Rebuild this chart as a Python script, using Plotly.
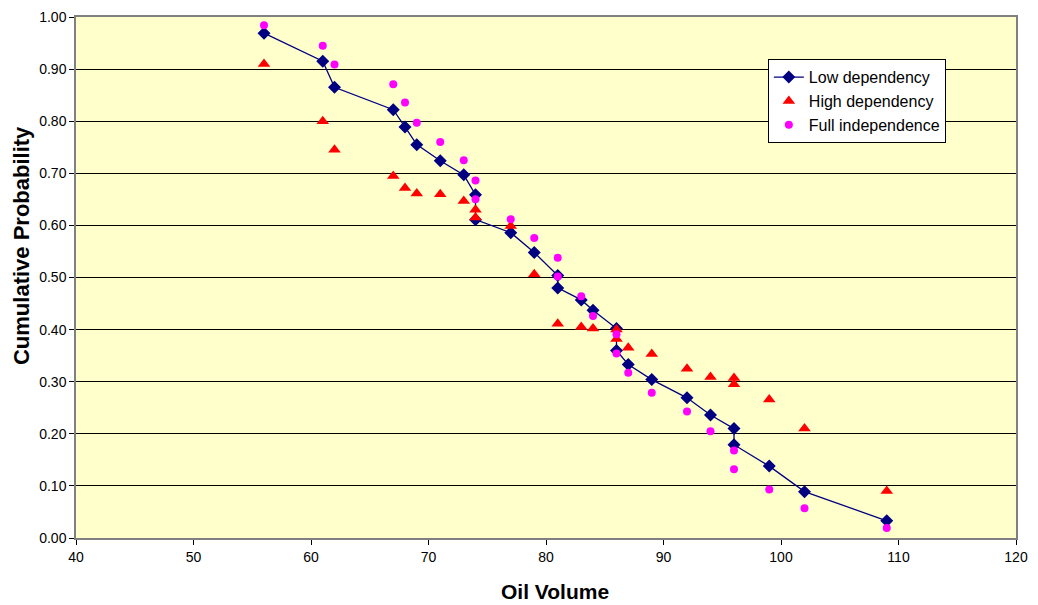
import plotly.graph_objects as go

low_x = [56, 61, 62, 67, 68, 69, 71, 73, 74, 74, 77, 79, 81, 81, 83, 84, 86, 86, 87, 89, 92, 94, 96, 96, 99, 102, 109]
low_y = [0.969, 0.915, 0.865, 0.822, 0.789, 0.755, 0.724, 0.697, 0.659, 0.611, 0.586, 0.548, 0.504, 0.480,
         0.457, 0.437, 0.402, 0.360, 0.333, 0.304, 0.269, 0.236, 0.210, 0.179, 0.138, 0.089, 0.033]

high_x = [56, 61, 62, 67, 68, 69, 71, 73, 74, 74, 77, 79, 81, 83, 84, 86, 86, 87, 89, 92, 94, 96, 96, 99, 102, 109]
high_y = [0.910, 0.800, 0.745, 0.695, 0.672, 0.661, 0.660, 0.647, 0.630, 0.615, 0.599, 0.506, 0.411, 0.405,
          0.402, 0.400, 0.382, 0.365, 0.353, 0.325, 0.309, 0.307, 0.295, 0.266, 0.210, 0.090]

full_x = [56, 61, 62, 67, 68, 69, 71, 73, 74, 74, 77, 79, 81, 81, 83, 84, 86, 86, 87, 89, 92, 94, 96, 96, 99, 102, 109]
full_y = [0.984, 0.945, 0.909, 0.871, 0.836, 0.797, 0.760, 0.725, 0.686, 0.650, 0.612, 0.576, 0.538, 0.502,
          0.464, 0.426, 0.391, 0.354, 0.317, 0.279, 0.243, 0.205, 0.168, 0.132, 0.093, 0.057, 0.019]

fig = go.Figure()
fig.add_trace(go.Scatter(x=low_x, y=low_y, mode="lines+markers", name="Low dependency",
                         line=dict(color="#000080", width=1.3),
                         marker=dict(symbol="diamond", size=10, color="#000080")))
fig.add_trace(go.Scatter(x=high_x, y=high_y, mode="markers", name="High dependency",
                         marker=dict(symbol="triangle-up", size=11, color="#FF0000")))
fig.add_trace(go.Scatter(x=full_x, y=full_y, mode="markers", name="Full independence",
                         marker=dict(symbol="circle", size=8, color="#FF00FF")))

fig.update_layout(
    width=1030, height=597,
    margin=dict(l=68, r=22, t=9, b=67),
    paper_bgcolor="white",
    plot_bgcolor="#FFFFCC",
    font=dict(family="Liberation Sans, Arial, sans-serif", size=14, color="black"),
    showlegend=True,
    legend=dict(x=0.736, y=0.919, xanchor="left", yanchor="top",
                bgcolor="white", bordercolor="black", borderwidth=1,
                font=dict(size=16), tracegroupgap=0, itemwidth=30),
    xaxis=dict(range=[40, 120], tick0=40, dtick=10, showgrid=False, zeroline=False,
               automargin=False, ticklabeloverflow="allow",
               ticks="outside", ticklen=5, tickcolor="black",
               showline=True, linecolor="#808080", linewidth=1.5, mirror=True),
    yaxis=dict(range=[0, 1], tick0=0, dtick=0.1, tickformat=".2f",
               showgrid=True, gridcolor="black", gridwidth=1, zeroline=False,
               automargin=False, ticklabeloverflow="allow",
               ticks="outside", ticklen=5, tickcolor="black",
               showline=True, linecolor="#808080", linewidth=1.5, mirror=True),
    annotations=[
        dict(text="<b>Oil Volume</b>", xref="paper", yref="paper", x=0.5096, y=-0.1036,
             xanchor="center", yanchor="middle", showarrow=False, font=dict(size=21)),
        dict(text="<b>Cumulative Probability</b>", xref="paper", yref="paper", x=-0.0574, y=0.5605,
             xanchor="center", yanchor="middle", showarrow=False, textangle=-90, font=dict(size=22)),
    ],
)

fig.write_html("out.html")
